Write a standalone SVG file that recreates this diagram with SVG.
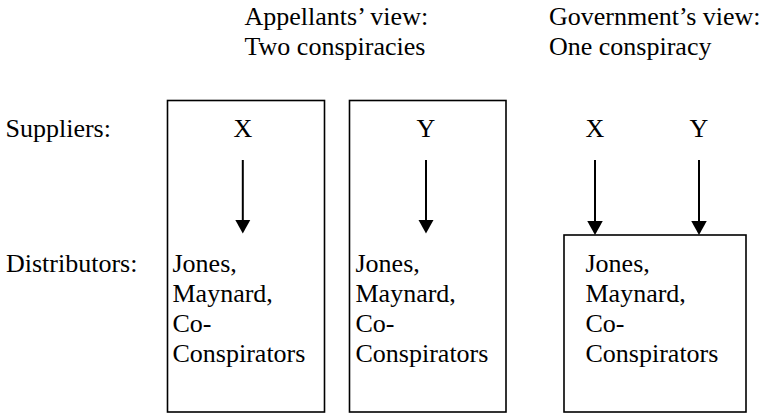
<svg xmlns="http://www.w3.org/2000/svg" width="765" height="414" viewBox="0 0 765 414">
<style>
.t{font-family:'Liberation Serif','Times New Roman','DejaVu Serif',serif;font-size:26px;fill:#000}
.box{fill:none;stroke:#000;stroke-width:1.6}
.arr{stroke:#000;stroke-width:2;fill:none;marker-end:url(#ah)}
.mid{text-anchor:middle}
</style>
<defs>
<marker id="ah" markerUnits="userSpaceOnUse" markerWidth="15" markerHeight="16" refX="3" refY="7.75" orient="auto" viewBox="0 0 15 15.5">
<path d="M0,0 L14,7.75 L0,15.5 z" fill="#000"/>
</marker>
</defs>
<g class="t" font-family="Liberation Serif, Times New Roman, serif" font-size="26">
<g id="headers">
<text x="244.5" y="25">Appellants’ view:</text>
<text x="244.5" y="55">Two conspiracies</text>
<text x="549" y="25">Government’s view:</text>
<text x="549" y="55">One conspiracy</text>
</g>
<g id="row-labels">
<text x="5.5" y="137">Suppliers:</text>
<text x="6" y="271.5">Distributors:</text>
</g>
<g id="box1">
<rect class="box" x="167.5" y="100.5" width="157" height="311.5"/>
<text class="mid" x="243" y="137">X</text>
<text x="172.5" y="271.5">Jones,</text>
<text x="172.5" y="301.5">Maynard,</text>
<text x="172.5" y="331.5">Co-</text>
<text x="172.5" y="361.5">Conspirators</text>
</g>
<g id="box2">
<rect class="box" x="349.5" y="100.5" width="156.5" height="311.5"/>
<text class="mid" x="426" y="137">Y</text>
<text x="355.5" y="271.5">Jones,</text>
<text x="355.5" y="301.5">Maynard,</text>
<text x="355.5" y="331.5">Co-</text>
<text x="355.5" y="361.5">Conspirators</text>
</g>
<g id="supplier-x">
<text class="mid" x="595" y="137">X</text>
</g>
<g id="supplier-y">
<text class="mid" x="699" y="137">Y</text>
</g>
<g id="box3">
<rect class="box" x="564" y="235" width="182" height="177"/>
<text x="585.5" y="271.5">Jones,</text>
<text x="585.5" y="301.5">Maynard,</text>
<text x="585.5" y="331.5">Co-</text>
<text x="585.5" y="361.5">Conspirators</text>
</g>
</g>
<g id="connectors">
<line class="arr" x1="242.8" y1="160" x2="242.8" y2="222.5"/>
<line class="arr" x1="426" y1="160" x2="426" y2="222.5"/>
<line class="arr" x1="595" y1="160" x2="595" y2="224"/>
<line class="arr" x1="699" y1="160" x2="699" y2="224"/>
</g>
</svg>
